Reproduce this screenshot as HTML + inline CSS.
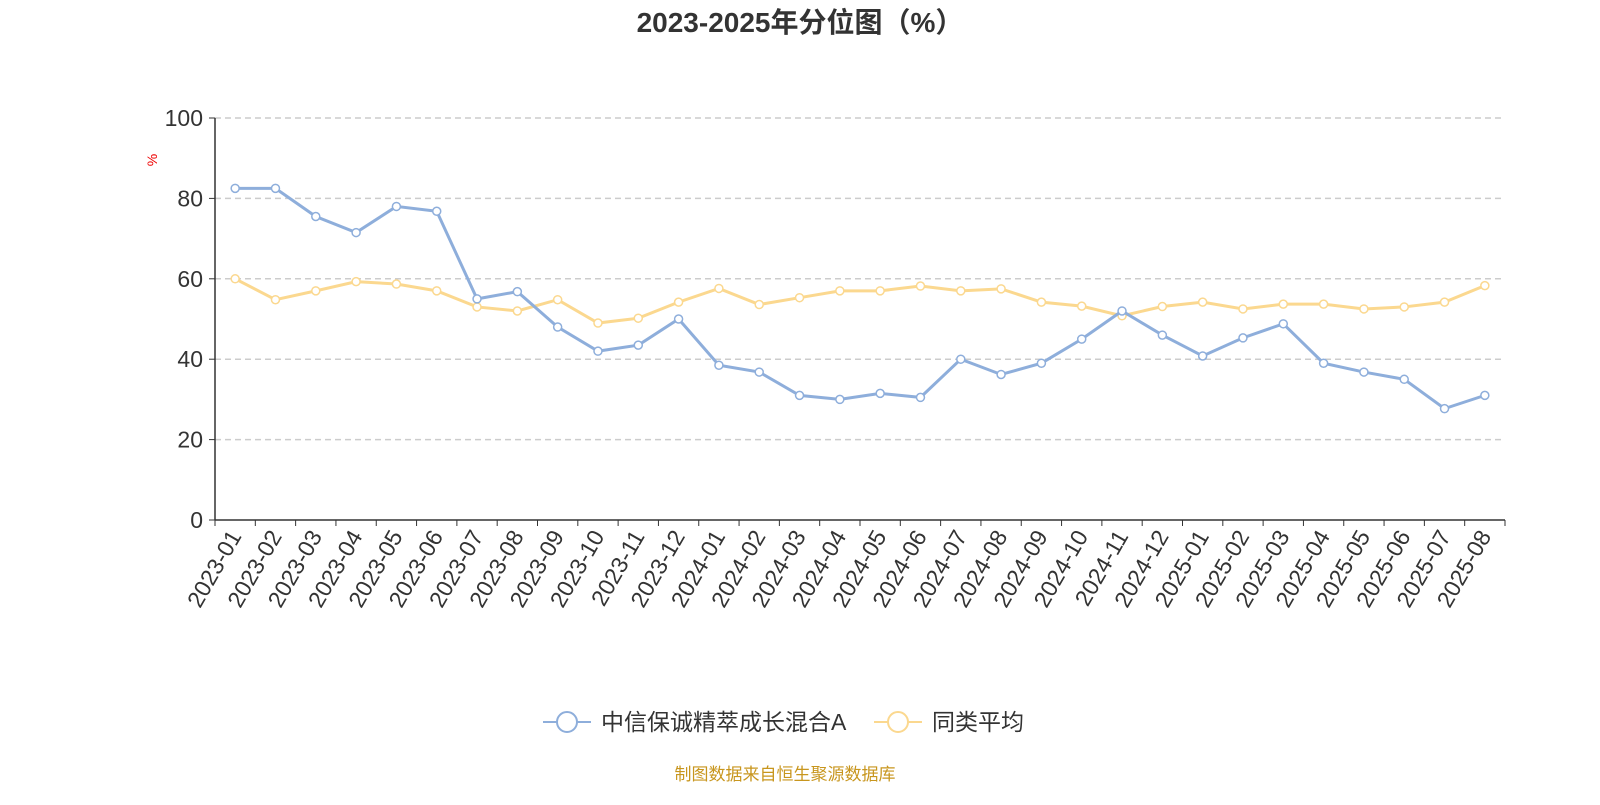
<!DOCTYPE html>
<html><head><meta charset="utf-8"><style>
body{margin:0;background:#fff;font-family:"Liberation Sans","Noto Sans CJK SC",sans-serif}
</style></head><body>
<svg id="c" width="1600" height="800" xmlns="http://www.w3.org/2000/svg">
<text x="800" y="32" text-anchor="middle" font-size="28" font-weight="bold" fill="#333" font-family="Liberation Sans,Noto Sans CJK SC,sans-serif">2023-2025年分位图（%）</text>
<text x="157" y="160" font-size="14" fill="#e00" transform="rotate(-90 157 160)" text-anchor="middle">%</text>
<g id="grid"></g><g id="axes"></g><g id="series"></g>
<g>
<g><line x1="543" y1="722" x2="591" y2="722" stroke="#8eaedb" stroke-width="2"/><circle cx="567" cy="722" r="10" fill="#fff" stroke="#8eaedb" stroke-width="2"/><text x="601" y="730" font-size="23" fill="#333">中信保诚精萃成长混合A</text></g>
<g><line x1="874" y1="722" x2="922" y2="722" stroke="#fbd88f" stroke-width="2"/><circle cx="898" cy="722" r="10" fill="#fff" stroke="#fbd88f" stroke-width="2"/><text x="932" y="730" font-size="23" fill="#333">同类平均</text></g>
</g>
<text x="785" y="780" text-anchor="middle" font-size="17" fill="#c8961e">制图数据来自恒生聚源数据库</text>
</svg>
<script>
const categories=["2023-01","2023-02","2023-03","2023-04","2023-05","2023-06","2023-07","2023-08","2023-09","2023-10","2023-11","2023-12","2024-01","2024-02","2024-03","2024-04","2024-05","2024-06","2024-07","2024-08","2024-09","2024-10","2024-11","2024-12","2025-01","2025-02","2025-03","2025-04","2025-05","2025-06","2025-07","2025-08"];
const fundValues=[82.5,82.5,75.5,71.5,78,76.8,55,56.8,48,42,43.5,50,38.5,36.8,31,30,31.5,30.5,40,36.2,39,45,52,46,40.8,45.3,48.8,39,36.8,35,27.7,31];
const avgValues=[60,54.8,57,59.3,58.7,57,53,52,54.8,49,50.2,54.2,57.6,53.6,55.3,57,57,58.2,57,57.5,54.2,53.2,50.8,53.1,54.2,52.5,53.7,53.7,52.5,53,54.2,58.3];
const yTicks=[0,20,40,60,80,100];
const NS="http://www.w3.org/2000/svg";
const X0=215,X1=1505,Y0=520,Y1=118;
const bw=(X1-X0)/categories.length;
const x=i=>X0+bw*(i+0.5);
const y=v=>Y0-(v/100)*(Y0-Y1);
function mk(tag,attrs,parent){const e=document.createElementNS(NS,tag);for(const k in attrs)e.setAttribute(k,attrs[k]);parent.appendChild(e);return e;}
const grid=document.getElementById('grid'),axes=document.getElementById('axes'),ser=document.getElementById('series');
yTicks.forEach(t=>{
  if(t>0){const g=mk('line',{x1:X0,x2:X1,y1:y(t),y2:y(t),stroke:'#ccc','stroke-dasharray':'6,4','stroke-width':1.5},grid);
  
  }
  const tk=mk('line',{x1:X0-6,x2:X0,y1:y(t),y2:y(t),stroke:'#333'},axes);
  
  
  const tx=mk('text',{x:X0-12,y:y(t)+8,'text-anchor':'end','font-size':23,fill:'#333'},axes);tx.textContent=t;
  
  
});
const ya=mk('line',{x1:X0,x2:X0,y1:Y1,y2:Y0,stroke:'#333','stroke-width':1.5},axes);


const xa=mk('line',{x1:X0,x2:X1,y1:Y0,y2:Y0,stroke:'#333','stroke-width':1.5},axes);


for(let i=0;i<=categories.length;i++){const tk=mk('line',{x1:X0+bw*i,x2:X0+bw*i,y1:Y0,y2:Y0+6,stroke:'#333'},axes);

}
categories.forEach((c,i)=>{const tx=mk('text',{x:x(i)+7,y:Y0+16,'text-anchor':'end','font-size':23,fill:'#333',transform:`rotate(-60 ${x(i)+7} ${Y0+16})`},axes);tx.textContent=c;

});
function series(vals,color,name){
  const g=mk('g',{},ser);
  
  
  mk('polyline',{points:vals.map((v,i)=>x(i)+','+y(v)).join(' '),fill:'none',stroke:color,'stroke-width':3},g);
  vals.forEach((v,i)=>{const p=mk('circle',{cx:x(i),cy:y(v),r:4,fill:'#fff',stroke:color,'stroke-width':1.5},g);
  
  });
}
series(avgValues,'#fbd88f','average-series');
series(fundValues,'#8eaedb','fund-series');
</script>
</body></html>
